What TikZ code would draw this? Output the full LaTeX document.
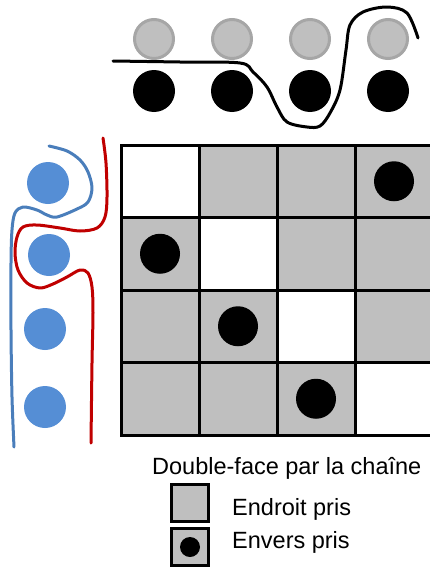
\documentclass[tikz,border=0pt]{standalone}
\usepackage{fontspec}
\setmainfont{Liberation Sans}
\usepackage{xcolor}
\usepackage{tikz}
\usetikzlibrary{positioning}
\definecolor{cellgray}{HTML}{BFBFBF}
\definecolor{ringgray}{HTML}{A6A6A6}
\definecolor{warpblue}{HTML}{558ED5}
\definecolor{threadblue}{HTML}{4A7EBB}
\definecolor{threadred}{HTML}{C00000}
\tikzset{thread/.style = {line width=3pt, line cap=round, line join=round}}

\begin{document}
\begin{tikzpicture}[x=1pt,y=-1pt,node distance=78pt,
    cell/.style={rectangle,draw,line width=3pt,fill=cellgray,inner sep=0pt,minimum width=78pt,minimum height=72.5pt},
    dot/.style={circle,fill=black,inner sep=0pt,minimum size=40pt},
    upper yarn/.style={circle,fill=cellgray,draw=ringgray,line width=3pt,inner sep=0pt,minimum size=39pt},
    lower yarn/.style={circle,fill=black,inner sep=0pt,minimum size=42pt},
    warp yarn/.style={circle,fill=warpblue,inner sep=0pt,minimum size=42pt},
    label text/.style={anchor=base west,inner sep=0pt,font=\fontsize{23.5}{28}\selectfont}]
                \useasboundingbox (0,0) rectangle (429,570);

                % grid of crossings
                \foreach \r in {1,...,4}
                    \foreach \c in {1,...,4}
                        \node[cell] (c\r\c) at ({160+78*(\c-1)},{181.25+72.5*(\r-1)}) {};
                \foreach \d in {1,...,4}
                    \node[cell,fill=white] at (c\d\d) {};
                \node[dot] (d1) at (c14) {};
                \node[dot] (d2) at (c21) {};
                \node[dot] (d3) at (c32) {};
                \node[dot] (d4) at (c43) {};

                % top yarns
                \node[upper yarn] (u1) at (154,39) {};
                \node[upper yarn] (u2) [right of=u1] {};
                \node[upper yarn] (u3) [right of=u2] {};
                \node[upper yarn] (u4) [right of=u3] {};
                \node[lower yarn] (l1) at (154,91) {};
                \node[lower yarn] (l2) [right of=l1] {};
                \node[lower yarn] (l3) [right of=l2] {};
                \node[lower yarn] (l4) [right of=l3] {};

                % side yarns
                \node[warp yarn] (w1) at (48,183) {};
                \node[warp yarn] (w2) at (49,255) {};
                \node[warp yarn] (w3) at (45,329) {};
                \node[warp yarn] (w4) at (45,407) {};

                % threads
                \draw[thread] plot[smooth,tension=0.55] coordinates {(113,61) (180,62) (240,63) (253,72) (267,87) (277,107) (287,122) (307,127) (320,126) (330,113) (340,90) (346,50) (350,25) (363,12) (387,7) (407,13) (418,38)};
                \draw[thread,threadblue] plot[smooth,tension=0.55] coordinates {(49,146) (67,151) (80,160) (88,172) (92,188) (88,202) (77,209) (57,217) (47,215) (37,210) (23,207) (15,213) (12,230) (11,263) (11,330) (12,397) (14,447)};
                \draw[thread,threadred] plot[smooth,tension=0.55] coordinates {(103,138) (106,163) (107,197) (105,217) (97,228) (80,231) (60,228) (37,225) (23,227) (17,237) (15,253) (18,270) (27,283) (40,288) (53,284) (67,277) (80,270) (88,273) (92,287) (93,313) (92,363) (91,443)};

                % legend
                \node[label text] (title) at (152,474) {Double-face par la chaîne};
                \node[cell,minimum width=37pt,minimum height=37pt] (k1) at (190,503) {};
                \node[cell,minimum width=37pt,minimum height=37pt] (k2) at (190,547) {};
                \node[dot,minimum size=20pt] (k2dot) at (k2) {};
                \node[label text] (t1) at (232,515) {Endroit pris};
                \node[label text] (t2) at (232,548) {Envers pris};
            \end{tikzpicture}
\end{document}
